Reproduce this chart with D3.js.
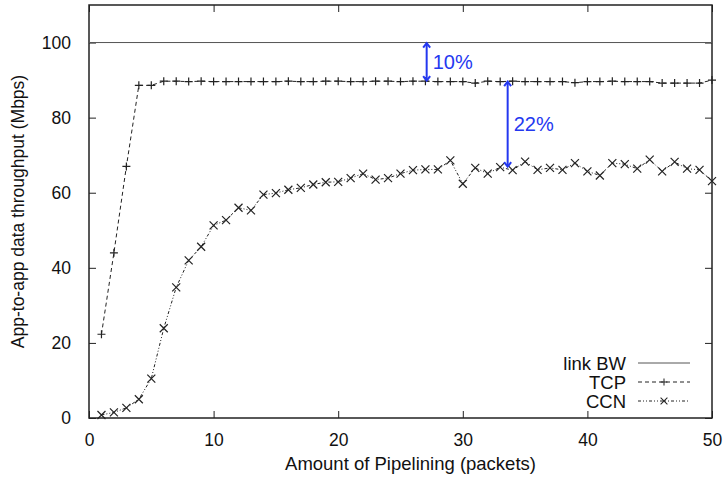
<!DOCTYPE html>
<html>
<head>
    <meta charset="utf-8">
    <title>Pipelining throughput</title>
    <script src="https://d3js.org/d3.v7.min.js"></script>
    <style>
        body { margin: 0; background: #fff; }
        text { font-family: "Liberation Sans", Arial, sans-serif; fill: #111; }
    </style>
</head>

<body>
<div id="chart"></div>
<script type="text/javascript">

    // pipelining amount (packets)
    let pipelining = d3.range(1, 51);

    let tcp = [22.3, 44.0, 67.0, 88.6, 88.6, 89.7, 89.7, 89.6, 89.7, 89.6,
               89.6, 89.6, 89.6, 89.6, 89.6, 89.7, 89.6, 89.6, 89.7, 89.7,
               89.6, 89.6, 89.7, 89.7, 89.6, 89.7, 89.7, 89.6, 89.6, 89.6,
               89.2, 89.7, 89.6, 89.7, 89.6, 89.6, 89.6, 89.6, 89.3, 89.6,
               89.6, 89.7, 89.6, 89.6, 89.6, 89.2, 89.2, 89.2, 89.2, 90.0];

    let ccn = [0.8, 1.5, 2.7, 5.0, 10.5, 23.9, 34.8, 42.0, 45.6, 51.3,
               52.7, 56.0, 55.3, 59.5, 59.9, 60.8, 61.3, 62.2, 62.8, 62.9,
               63.9, 65.1, 63.5, 63.9, 65.1, 66.0, 66.2, 66.2, 68.6, 62.4,
               66.6, 65.1, 66.8, 66.0, 68.3, 66.1, 66.6, 66.1, 67.9, 65.7,
               64.6, 67.9, 67.6, 66.4, 68.8, 65.7, 68.2, 66.4, 66.1, 63.1];

    let linkBW = 100;

    let xTicks = [0, 10, 20, 30, 40, 50];
    let yTicks = [0, 20, 40, 60, 80, 100];

    // annotations: [x, from, to, label]
    let gaps = [[27.1, 100, 89.7, "10%"], [33.6, 89.7, 66.8, "22%"]];

    let margin = {top: 5, right: 12, bottom: 59, left: 89};
    let w = 724 - margin.left - margin.right;
    let h = 477 - margin.top - margin.bottom;

    let svg = d3.select("#chart")
        .append("svg")
            .attr("width", 724)
            .attr("height", 477)
        .append("g")
            .attr("transform", "translate(" + margin.left + "," + margin.top + ")");

    let xScale = d3.scaleLinear().domain([0, 50]).range([0, w]);
    let yScale = d3.scaleLinear().domain([0, 110]).range([h, 0]);

    let ink = "#222";

    // ticks on all four sides, pointing inwards
    svg.append("g")
        .attr("transform", "translate(0," + h + ")")
        .call(d3.axisBottom(xScale).tickValues(xTicks).tickSize(-7).tickPadding(16))
        .call(g => g.select(".domain").remove());
    svg.append("g")
        .call(d3.axisTop(xScale).tickValues(xTicks).tickSize(-7).tickFormat(""))
        .call(g => g.select(".domain").remove());
    svg.append("g")
        .call(d3.axisLeft(yScale).tickValues(yTicks).tickSize(-7).tickPadding(18))
        .call(g => g.select(".domain").remove());
    svg.append("g")
        .attr("transform", "translate(" + w + ",0)")
        .call(d3.axisRight(yScale).tickValues(yTicks).tickSize(-7).tickFormat(""))
        .call(g => g.select(".domain").remove());

    svg.selectAll(".tick line").attr("stroke", ink).attr("stroke-width", 1);
    svg.selectAll(".tick text").attr("font-size", "17.5px").attr("fill", "#111")
        .attr("font-family", "Liberation Sans, Arial, sans-serif");

    svg.append("rect")
        .attr("width", w).attr("height", h)
        .attr("fill", "none").attr("stroke", ink).attr("stroke-width", 1.5);

    // link bandwidth
    svg.append("line")
        .attr("x1", xScale(0)).attr("x2", xScale(50))
        .attr("y1", yScale(linkBW)).attr("y2", yScale(linkBW))
        .attr("stroke", "#555").attr("stroke-width", 1);

    let line = d3.line()
        .x((d, i) => xScale(pipelining[i]))
        .y(d => yScale(d));

    svg.append("path")
        .datum(tcp)
        .attr("d", line)
        .attr("fill", "none").attr("stroke", ink).attr("stroke-width", 1)
        .attr("stroke-dasharray", "4,3");

    svg.append("path")
        .datum(ccn)
        .attr("d", line)
        .attr("fill", "none").attr("stroke", ink).attr("stroke-width", 1)
        .attr("stroke-dasharray", "3,2,1,2,1,2");

    let plus = "M-4,0H4M0,-4V4";
    let cross = "M-4,-4L4,4M-4,4L4,-4";

    svg.selectAll(".tcp")
        .data(tcp)
        .enter()
        .append("path")
        .attr("class", "tcp")
        .attr("d", plus)
        .attr("transform", (d, i) => "translate(" + xScale(pipelining[i]) + "," + yScale(d) + ")")
        .attr("stroke", ink).attr("stroke-width", 1.2);

    svg.selectAll(".ccn")
        .data(ccn)
        .enter()
        .append("path")
        .attr("class", "ccn")
        .attr("d", cross)
        .attr("transform", (d, i) => "translate(" + xScale(pipelining[i]) + "," + yScale(d) + ")")
        .attr("stroke", ink).attr("stroke-width", 1.2);

    // blue gap arrows
    let blue = "#2438f0";
    gaps.forEach(function(g) {
        let x = xScale(g[0]), y1 = yScale(g[1]), y2 = yScale(g[2]);
        svg.append("line")
            .attr("x1", x).attr("x2", x).attr("y1", y1 + 1).attr("y2", y2 - 1)
            .attr("stroke", blue).attr("stroke-width", 2);
        svg.append("path")
            .attr("d", "M" + (x - 3.5) + "," + (y1 + 5) + "L" + x + "," + (y1 + 0.5) + "L" + (x + 3.5) + "," + (y1 + 5)
                + "M" + (x - 3.5) + "," + (y2 - 5) + "L" + x + "," + (y2 - 0.5) + "L" + (x + 3.5) + "," + (y2 - 5))
            .attr("fill", "none").attr("stroke", blue).attr("stroke-width", 2);
        svg.append("text")
            .attr("x", x + 6)
            .attr("y", (y1 + y2) / 2 + 7)
            .attr("font-size", "20px")
            .style("fill", blue)
            .text(g[3]);
    });

    // legend
    let legend = [
        {name: "link BW", dash: null, mark: null},
        {name: "TCP", dash: "4,3", mark: plus},
        {name: "CCN", dash: "3,2,1,2,1,2", mark: cross}
    ];
    let lg = svg.selectAll(".legend")
        .data(legend)
        .enter()
        .append("g")
        .attr("transform", (d, i) => "translate(" + (w - 74) + "," + (358 + i * 19) + ")");
    lg.append("text")
        .attr("x", -12).attr("y", 6.5)
        .attr("text-anchor", "end")
        .attr("font-size", "18.5px")
        .text(d => d.name);
    lg.append("line")
        .attr("x1", 0).attr("x2", 52)
        .attr("stroke", (d, i) => i == 0 ? "#555" : ink).attr("stroke-width", 1)
        .attr("stroke-dasharray", d => d.dash);
    lg.filter(d => d.mark)
        .append("path")
        .attr("d", d => d.mark)
        .attr("transform", "translate(26,0) scale(0.85)")
        .attr("stroke", ink).attr("stroke-width", 1.2);

    // axis titles
    svg.append("text")
        .attr("x", w / 2 + 10).attr("y", h + 52)
        .attr("text-anchor", "middle")
        .attr("font-size", "18.5px")
        .text("Amount of Pipelining (packets)");

    svg.append("text")
        .attr("transform", "translate(" + (-65) + "," + (h / 2) + ") rotate(-90)")
        .attr("text-anchor", "middle")
        .attr("font-size", "17.5px")
        .text("App-to-app data throughput (Mbps)");

</script>
</body>
</html>
